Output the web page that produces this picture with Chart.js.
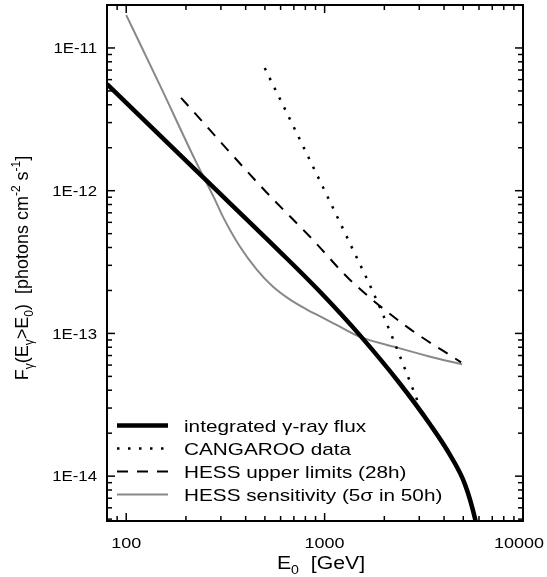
<!DOCTYPE html>
<html>
<head>
<meta charset="utf-8">
<script src="https://cdn.jsdelivr.net/npm/chart.js@4/dist/chart.umd.min.js"></script>
<style>
  body { margin: 0; background: #fff; }
  canvas { display: block; }
</style>
</head>
<body>
<canvas id="fluxChart" width="547" height="577"></canvas>
<script>
// values (E in GeV, F in photons cm^-2 s^-1)
var energyIntegrated = [80, 235, 596, 948, 1508, 2399, 3397, 4284, 5099, 5728, 6070];
var fluxIntegrated = [5.59e-12, 1.305e-12, 3.73e-13, 1.957e-13, 9.69e-14, 4.44e-14, 2.31e-14, 1.41e-14, 8.76e-15, 5.06e-15, 3.4e-15];

var energyCangaroo = [499, 700, 1012, 1336, 1888, 2583, 2931];
var fluxCangaroo = [7.24e-12, 2.78e-12, 9.68e-13, 4.33e-13, 1.55e-13, 5.33e-14, 3.4e-14];

var energyHessUL = [189, 506, 871, 1336, 2583, 4875];
var fluxHessUL = [4.47e-12, 9.84e-13, 4.54e-13, 2.39e-13, 1.12e-13, 6.27e-14];

var energyHessSens = [100, 150, 222, 280, 307, 374, 455, 548, 667, 813, 977, 1188, 1500, 2300, 3370, 4930];
var fluxHessSens = [1.70e-11, 5.25e-12, 1.65e-12, 8.65e-13, 6.58e-13, 4.06e-13, 2.8e-13, 2.13e-13, 1.73e-13, 1.47e-13, 1.29e-13, 1.12e-13, 9.5e-14, 7.98e-14, 6.9e-14, 6.07e-14];

var seriesLabels = ['integrated \u03b3-ray flux', 'CANGAROO data', 'HESS upper limits (28h)', 'HESS sensitivity (5\u03c3 in 50h)'];

var xTickValues = [100, 1000, 10000];
var xTickLabels = ['100', '1000', '10000'];
var yTickValues = [1e-14, 1e-13, 1e-12, 1e-11];
var yTickLabels = ['1E-14', '1E-13', '1E-12', '1E-11'];

var FONT = '"Liberation Sans", Arial, Helvetica, sans-serif';

function toPoints(xs, ys) {
    var pts = [];
    for (var i = 0; i < xs.length; i++) pts.push({ x: xs[i], y: ys[i] });
    return pts;
}

// draws a run of text pieces [text, size, dy] with a horizontal stretch
function drawRich(ctx, parts, x, y, align, sx, maxRight) {
    var total = 0, widths = [];
    for (var i = 0; i < parts.length; i++) {
        ctx.font = parts[i][1] + 'px ' + FONT;
        widths.push(ctx.measureText(parts[i][0]).width * sx);
        total += widths[i];
    }
    var cur = x;
    if (align == 'center') cur = x - total / 2;
    if (align == 'right') cur = x - total;
    if (maxRight && cur + total > maxRight) cur = maxRight - total;
    ctx.textAlign = 'left';
    ctx.textBaseline = 'alphabetic';
    for (var j = 0; j < parts.length; j++) {
        ctx.save();
        ctx.font = parts[j][1] + 'px ' + FONT;
        ctx.translate(cur, y + parts[j][2]);
        ctx.scale(sx, 1);
        ctx.fillText(parts[j][0], 0, 0);
        ctx.restore();
        cur += widths[j];
    }
}

function stroke(ctx, x1, y1, x2, y2) {
    ctx.beginPath();
    ctx.moveTo(x1, y1);
    ctx.lineTo(x2, y2);
    ctx.stroke();
}

var framePlugin = {
    id: 'frame',
    afterDatasetsDraw: function (chart) {
        var ctx = chart.ctx, a = chart.chartArea;
        var xs = chart.scales.x, ys = chart.scales.y;
        ctx.save();
        ctx.strokeStyle = '#000';
        ctx.lineWidth = 1.5;
        ctx.setLineDash([]);
        // inward ticks on all four sides
        for (var p = 1; p <= 4; p++) {
            for (var m = 1; m <= 9; m++) {
                var v = m * Math.pow(10, p);
                if (v < xs.min || v > xs.max * 1.0001) continue;
                var px = xs.getPixelForValue(v), len = (m == 1) ? 8 : 5;
                stroke(ctx, px, a.bottom, px, a.bottom - len);
                stroke(ctx, px, a.top, px, a.top + len);
            }
        }
        for (var q = -15; q <= -11; q++) {
            for (var n = 1; n <= 9; n++) {
                var w = n * Math.pow(10, q);
                if (w < ys.min || w > ys.max) continue;
                var py = ys.getPixelForValue(w), ln = (n == 1) ? 8 : 5;
                stroke(ctx, a.left, py, a.left + ln, py);
                stroke(ctx, a.right, py, a.right - ln, py);
            }
        }
        ctx.lineWidth = 2;
        ctx.strokeRect(a.left, a.top, a.right - a.left, a.bottom - a.top);

        // legend in the lower left corner of the plot
        var ds = chart.data.datasets;
        for (var k = 0; k < ds.length; k++) {
            var ly = 425.5 + 23 * k;
            ctx.save();
            ctx.strokeStyle = ds[k].borderColor;
            ctx.lineWidth = ds[k].borderWidth;
            ctx.setLineDash(ds[k].borderDash || []);
            stroke(ctx, 117, ly, 168, ly);
            ctx.restore();
            ctx.fillStyle = '#000';
            drawRich(ctx, [[ds[k].label, 17, 0]], 184, ly + 6, 'left', 1.22);
        }
        ctx.restore();
    },
    afterDraw: function (chart) {
        var ctx = chart.ctx, a = chart.chartArea;
        var xs = chart.scales.x, ys = chart.scales.y;
        ctx.save();
        ctx.fillStyle = '#000';
        for (var i = 0; i < xTickValues.length; i++) {
            drawRich(ctx, [[xTickLabels[i], 15, 0]], xs.getPixelForValue(xTickValues[i]), 548, 'center', 1.2, 544);
        }
        for (var j = 0; j < yTickValues.length; j++) {
            drawRich(ctx, [[yTickLabels[j], 14, 0]], a.left - 10, ys.getPixelForValue(yTickValues[j]) + 5.2, 'right', 1.2);
        }
        // axis titles
        drawRich(ctx, [['E', 18, 0], ['0', 12, 5], ['  [GeV]', 18, 0]], 321, 569, 'center', 1.18);
        ctx.save();
        ctx.translate(28, 268);
        ctx.rotate(-Math.PI / 2);
        drawRich(ctx, [
            ['F', 18, 0], ['\u03b3', 12, 5], ['(E', 18, 0], ['\u03b3', 12, 5], ['>E', 18, 0], ['0', 12, 5],
            [')  [photons cm', 18, 0], ['-2', 12, -8], [' s', 18, 0], ['-1', 12, -8], [']', 18, 0]
        ], 0, 0, 'center', 1);
        ctx.restore();
        ctx.restore();
    }
};

var fluxChart = new Chart(document.getElementById('fluxChart'), {
    type: 'line',
    data: {
        datasets: [
            {
                label: seriesLabels[0],
                data: toPoints(energyIntegrated, fluxIntegrated),
                borderColor: '#000000',
                borderWidth: 4.5
            },
            {
                label: seriesLabels[1],
                data: toPoints(energyCangaroo, fluxCangaroo),
                borderColor: '#000000',
                borderWidth: 2.5,
                borderDash: [2.5, 8.5]
            },
            {
                label: seriesLabels[2],
                data: toPoints(energyHessUL, fluxHessUL),
                borderColor: '#000000',
                borderWidth: 2,
                borderDash: [11, 9]
            },
            {
                label: seriesLabels[3],
                data: toPoints(energyHessSens, fluxHessSens),
                borderColor: '#888888',
                borderWidth: 2
            }
        ]
    },
    options: {
        responsive: false,
        animation: false,
        events: [],
        layout: { padding: { left: 107, right: 24, top: 5, bottom: 56 } },
        datasets: {
            line: { pointRadius: 0, fill: false, cubicInterpolationMode: 'monotone', clip: 0 }
        },
        scales: {
            x: { type: 'logarithmic', min: 80, max: 10000, display: false },
            y: { type: 'logarithmic', min: 4.85e-15, max: 2.0e-11, display: false }
        },
        plugins: {
            legend: { display: false },
            tooltip: { enabled: false }
        }
    },
    plugins: [framePlugin]
});
</script>
</body>
</html>
